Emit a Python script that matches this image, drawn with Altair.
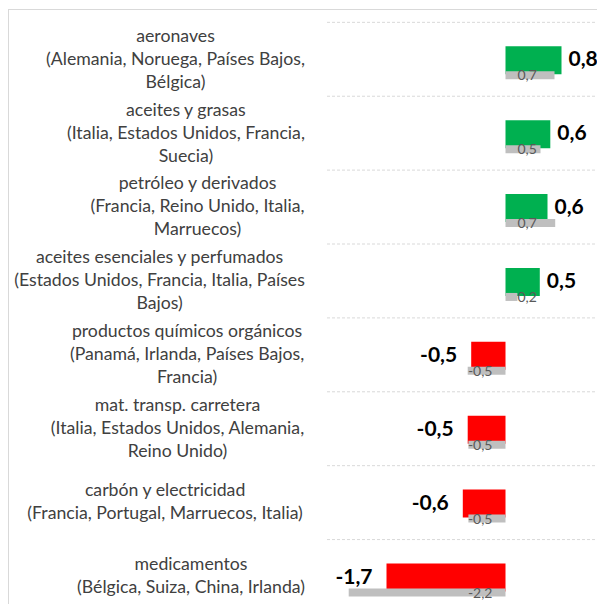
import altair as alt
import pandas as pd

# ---------------- data ----------------
categories = [
    "aeronaves",
    "aceites y grasas",
    "petróleo y derivados",
    "aceites esenciales y perfumados",
    "productos químicos orgánicos",
    "mat. transp. carretera",
    "carbón y electricidad",
    "medicamentos",
]
label_text = [
    "aeronaves\n(Alemania, Noruega, Países Bajos,\nBélgica)",
    "aceites y grasas\n(Italia, Estados Unidos, Francia,\nSuecia)",
    "petróleo y derivados\n(Francia, Reino Unido, Italia,\nMarruecos)",
    "aceites esenciales y perfumados\n(Estados Unidos, Francia, Italia, Países\nBajos)",
    "productos químicos orgánicos\n(Panamá, Irlanda, Países Bajos,\nFrancia)",
    "mat. transp. carretera\n(Italia, Estados Unidos, Alemania,\nReino Unido)",
    "carbón y electricidad\n(Francia, Portugal, Marruecos, Italia)",
    "medicamentos\n(Bélgica, Suiza, China, Irlanda)",
]
current = [0.8, 0.64, 0.6, 0.49, -0.49, -0.54, -0.61, -1.7]
previous = [0.7, 0.5, 0.71, 0.17, -0.54, -0.53, -0.53, -2.24]

# ---------------- layout helpers ----------------
W, H = 589, 596
ZERO_PX = 497.5          # pixel position of the zero line inside the plot
PX_PER_UNIT = 70.0
LABEL_RIGHT = 300.0      # right edge of the category label block
REF_FONT = 19.3          # font size of the original labels (for centring)
ROW_H = 75.15
ROW_TOP = 9.5
LINE_H = 23

# approximate advance widths (em) of the original label font
CAL = {" ": .226, ",": .25, ".": .252, "(": .303, ")": .303, "-": .306,
       "a": .479, "b": .525, "c": .423, "d": .525, "e": .498, "f": .305,
       "g": .471, "h": .525, "i": .229, "j": .239, "k": .455, "l": .229,
       "m": .799, "n": .525, "o": .527, "p": .525, "q": .525, "r": .349,
       "s": .391, "t": .335, "u": .525, "v": .452, "w": .715, "x": .433,
       "y": .453, "z": .395, "A": .579, "B": .544, "C": .533, "D": .615,
       "E": .488, "F": .459, "G": .631, "H": .623, "I": .252, "J": .319,
       "K": .520, "L": .420, "M": .855, "N": .646, "O": .662, "P": .517,
       "R": .543, "S": .459, "T": .487, "U": .642, "V": .592, "Z": .468}
ACC = str.maketrans("áéíóúñÁÉÍÓÚ", "aeiounAEIOU")


def text_w(s):
    return sum(CAL.get(ch, 0.5) for ch in s.translate(ACC)) * REF_FONT


def fmt(v):
    return f"{v:.1f}".replace(".", ",")


cx, ly = [], []
for i, t in enumerate(label_text):
    lines = t.split("\n")
    widest = max(text_w(line) for line in lines)
    cx.append((LABEL_RIGHT - widest / 2 - ZERO_PX) / PX_PER_UNIT)
    ly.append(i + 0.5 - (len(lines) - 1) / 2 * LINE_H / ROW_H)

n = len(categories)
df = pd.DataFrame({
    "cat": categories,
    "label": label_text,
    "value": current,
    "prev": previous,
    "vlabel": [fmt(v) for v in current],
    "plabel": [fmt(v) for v in previous],
    "cx": cx,
    "ly": ly,
    "row": list(range(n)),
    "rowc": [i + 0.5 for i in range(n)],
    "zero": [0.0] * n,
})

x_scale = alt.Scale(domain=[-ZERO_PX / PX_PER_UNIT, (W - ZERO_PX) / PX_PER_UNIT],
                    nice=False, zero=False)
y_scale = alt.Scale(domain=[-ROW_TOP / ROW_H, (H - ROW_TOP) / ROW_H],
                    nice=False, zero=False, reverse=True)


def X(f):
    return alt.X(f, scale=x_scale, axis=None)


def Yf(f):
    return alt.Y(f, scale=y_scale, axis=None)


base = alt.Chart(df)
FONT = "Lato"

top_border = base.mark_rule(color="#d9d9d9", strokeWidth=1).encode(
    x=alt.value(0), x2=alt.value(W), y=alt.value(1.5)
)
left_border = base.mark_rule(color="#d9d9d9", strokeWidth=1).encode(
    x=alt.value(0.5), y=alt.value(1.5), y2=alt.value(H)
)

grid = base.mark_rule(color="#d9d9d9", strokeDash=[3, 2], strokeWidth=1).encode(
    y=Yf("row:Q"), x=alt.value(319), x2=alt.value(W),
)

bars = base.mark_bar(height=28, yOffset=1).encode(
    x=X("value:Q"), x2="zero:Q", y=Yf("rowc:Q"),
    color=alt.condition("datum.value > 0", alt.value("#00B050"), alt.value("#FF0000")),
)

gray = base.mark_bar(height=8, yOffset=16, color="#bfbfbf").encode(
    x=X("prev:Q"), x2="zero:Q", y=Yf("rowc:Q"),
)

plab_pos = base.transform_filter("datum.prev > 0").mark_text(
    align="left", baseline="middle", dx=12, dy=17, fontSize=14, font=FONT, color="#595959"
).encode(x=X("zero:Q"), y=Yf("rowc:Q"), text="plabel:N")

plab_neg = base.transform_filter("datum.prev < 0").mark_text(
    align="right", baseline="middle", dx=-13, dy=17, fontSize=14, font=FONT, color="#595959"
).encode(x=X("zero:Q"), y=Yf("rowc:Q"), text="plabel:N")

vlab_pos = base.transform_filter("datum.value > 0").mark_text(
    align="left", baseline="middle", dx=7, dy=1, fontSize=21, fontWeight="bold",
    font=FONT, color="#000000"
).encode(x=X("value:Q"), y=Yf("rowc:Q"), text="vlabel:N")

vlab_neg = base.transform_filter("datum.value < 0").mark_text(
    align="right", baseline="middle", dx=-14, dy=1, fontSize=21, fontWeight="bold",
    font=FONT, color="#000000"
).encode(x=X("value:Q"), y=Yf("rowc:Q"), text="vlabel:N")

cat_labels = base.mark_text(
    align="center", baseline="middle", lineBreak="\n", lineHeight=LINE_H,
    fontSize=17.7, font=FONT, color="#404040"
).encode(x=X("cx:Q"), y=Yf("ly:Q"), text="label:N")

chart = alt.layer(
    top_border, left_border, grid, bars, gray, plab_pos, plab_neg,
    vlab_pos, vlab_neg, cat_labels
).properties(
    width=W, height=H, padding=0, autosize="none"
).configure_view(stroke=None)

chart.save("out.html", embed_options={"renderer": "svg", "actions": False})
